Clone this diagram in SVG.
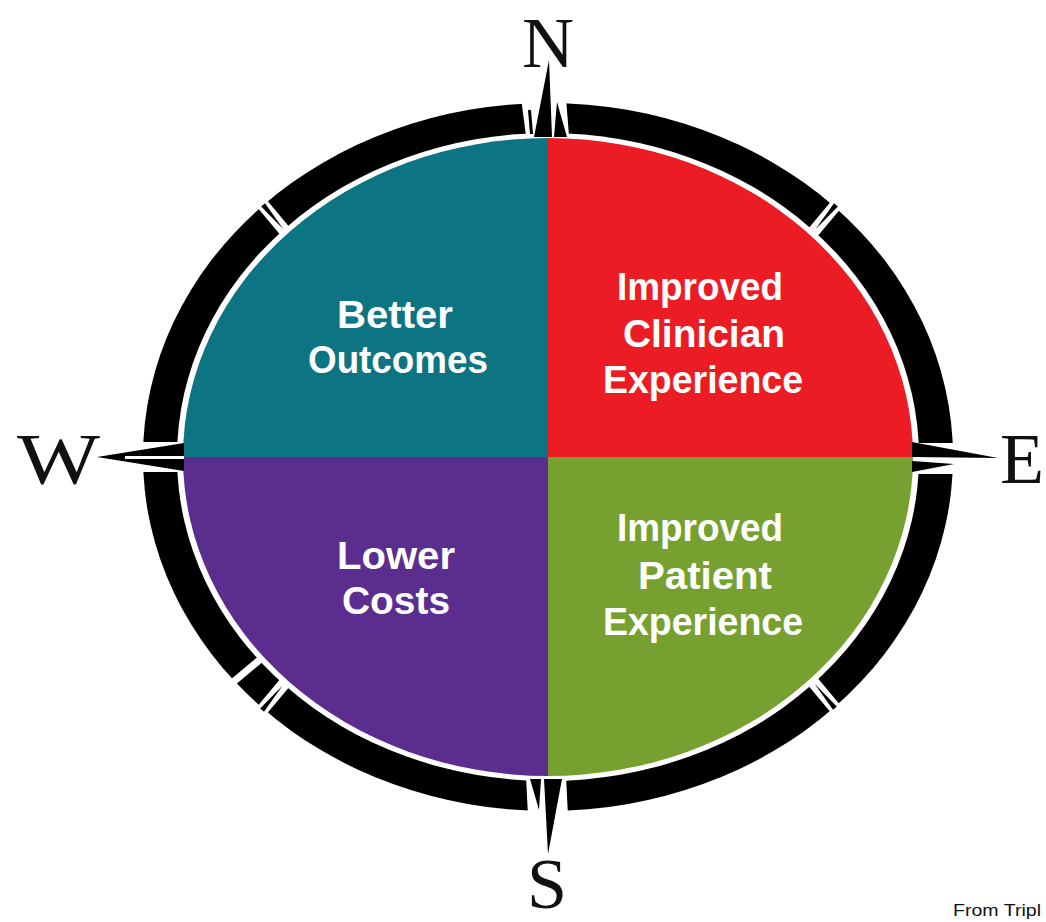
<svg xmlns="http://www.w3.org/2000/svg" width="1046" height="922" viewBox="0 0 1046 922">
<style>
.q{font-family:"Liberation Sans",Arial,sans-serif;font-weight:bold;font-size:39px;fill:#ffffff;text-anchor:middle}
.dir{font-family:"Liberation Serif","Times New Roman",serif;font-size:72px;fill:#111111}
.blk{fill:#000000}
.wht{fill:#ffffff}
</style>
<defs>
<g id="tick">
<rect x="-21" y="-6" width="42" height="12" class="wht"/>
<polygon points="17,-2.5 17,2.5 -15,0" class="blk"/>
</g>
<g id="gap">
<rect x="-21" y="-3.5" width="42" height="7" class="wht"/>
</g>
</defs>
<rect width="1046" height="922" fill="#ffffff"/>
<g id="ring">
<ellipse cx="548" cy="457" rx="405" ry="354" class="blk"/>
<ellipse cx="548" cy="457" rx="371" ry="324" class="wht"/>
<use href="#tick" transform="translate(274,218) rotate(-130)"/>
<use href="#tick" transform="translate(825,218) rotate(-50)"/>
<use href="#tick" transform="translate(824,695) rotate(50)"/>
<use href="#tick" transform="translate(273,697) rotate(130)"/>
<use href="#gap" transform="translate(244,673) rotate(140)"/>
<polygon points="521,98 566,98 569,136 526,136" class="wht"/>
<polygon points="526,776 566,776 568,816 528,816" class="wht"/>
<rect x="138" y="442" width="46" height="30" class="wht"/>
<rect x="911" y="443" width="48" height="31" class="wht"/>
</g>
<g id="better-outcomes">
<path d="M548,457 L183,457 A365,319 0 0 1 548,138 Z" fill="#0c7482"/>
<text class="q" x="395" y="328" textLength="116" lengthAdjust="spacingAndGlyphs">Better</text>
<text class="q" x="398" y="373" textLength="180" lengthAdjust="spacingAndGlyphs">Outcomes</text>
</g>
<g id="improved-clinician-experience">
<path d="M548,457 L548,138 A365,319 0 0 1 913,457 Z" fill="#ec1c24"/>
<text class="q" x="700" y="300" textLength="166" lengthAdjust="spacingAndGlyphs">Improved</text>
<text class="q" x="704" y="347" textLength="162" lengthAdjust="spacingAndGlyphs">Clinician</text>
<text class="q" x="703" y="393" textLength="200" lengthAdjust="spacingAndGlyphs">Experience</text>
</g>
<g id="improved-patient-experience">
<path d="M548,457 L913,457 A365,319 0 0 1 548,776 Z" fill="#76a131"/>
<text class="q" x="700" y="541" textLength="166" lengthAdjust="spacingAndGlyphs">Improved</text>
<text class="q" x="705" y="589" textLength="134" lengthAdjust="spacingAndGlyphs">Patient</text>
<text class="q" x="703" y="635" textLength="200" lengthAdjust="spacingAndGlyphs">Experience</text>
</g>
<g id="lower-costs">
<path d="M548,457 L548,776 A365,319 0 0 1 183,457 Z" fill="#5b2d8e"/>
<text class="q" x="396" y="569" textLength="118" lengthAdjust="spacingAndGlyphs">Lower</text>
<text class="q" x="396" y="614" textLength="108" lengthAdjust="spacingAndGlyphs">Costs</text>
</g>
<g id="needles">
<polygon points="528,110 531,110 533,134 530,134" class="blk"/>
<polygon points="534,137 549,60 552,137" class="blk"/>
<polygon points="554,137 557,102 567,137" class="blk"/>
<polygon points="530,779 541,779 539,810" class="blk"/>
<polygon points="544,779 562,779 548,854" class="blk"/>
<polygon points="97,457 184,443 184,471" class="blk"/>
<line x1="125" y1="457.5" x2="184" y2="457.5" stroke="#ffffff" stroke-width="3"/>
<polygon points="912,442 912,457 998,458" class="blk"/>
<polygon points="912,461 912,472 954,464" class="blk"/>
</g>
<g id="directions">
<text class="dir" x="548" y="67" text-anchor="middle">N</text>
<text class="dir" x="17" y="483" textLength="83" lengthAdjust="spacingAndGlyphs">W</text>
<text class="dir" x="1000" y="483">E</text>
<text class="dir" x="547" y="908" text-anchor="middle">S</text>
</g>
<text x="953" y="916" font-family="Liberation Sans, Arial, sans-serif" font-size="16" fill="#111111" textLength="88" lengthAdjust="spacingAndGlyphs">From Tripl</text>
</svg>
